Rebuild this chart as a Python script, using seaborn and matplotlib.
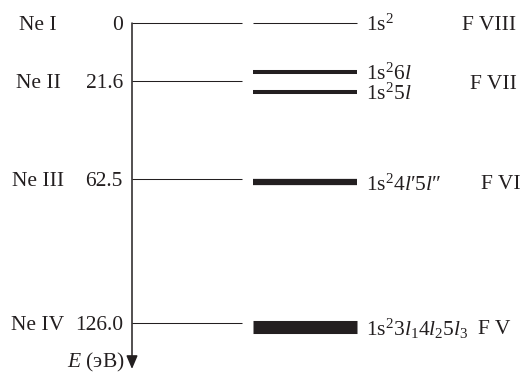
import numpy as np
import matplotlib
matplotlib.use("Agg")
import matplotlib.pyplot as plt
import seaborn as sns

sns.set_theme(style="white")
plt.rcParams["font.family"] = "serif"
plt.rcParams["font.serif"] = ["Liberation Serif", "DejaVu Serif"]
plt.rcParams["mathtext.fontset"] = "custom"
plt.rcParams["mathtext.rm"] = "Liberation Serif"
plt.rcParams["mathtext.it"] = "Liberation Serif:italic"

# Ne ionization thresholds, eV
ne_ions = ["Ne I", "Ne II", "Ne III", "Ne IV"]
ne_energy = [0, 21.6, 62.5, 126.0]
ne_labels = ["0", "21.6", "62.5", "126.0"]

# F configurations (band centre, eV)
f_config = [r"1s$^2$", r"1s$^2$6$\mathit{l}$", r"1s$^2$5$\mathit{l}$",
            r"1s$^2$4$\mathit{l}$′5$\mathit{l}$″",
            r"1s$^2$3$\mathit{l}_1$4$\mathit{l}_2$5$\mathit{l}_3$"]
f_energy = [0, 18.0, 26.0, 63.8, 127.6]
f_lw = [0.75, 2.9, 2.9, 4.5, 9.4]

f_ions = ["F VIII", "F VII", "F VI", "F V"]
f_ion_energy = [0, 22.0, 63.8, 127.6]
f_ion_x = [462, 470, 481, 478]

ink = "#231f20"
fs = 15.5

fig = plt.figure(figsize=(5.27, 3.74), dpi=100)
ax = fig.add_axes([0, 0, 1, 1])

# schematic (slightly compressed) energy axis
p = 0.93
fwd = lambda e: np.sign(e) * np.abs(e) ** p
inv = lambda v: np.sign(v) * np.abs(v) ** (1 / p)
ax.set_yscale("function", functions=(fwd, inv))
ax.set_xlim(0, 527)
unit = fwd(126.0) / 300


def ypx(row):
    return inv(unit * (row - 23))


ax.set_ylim(ypx(374), ypx(0))
ax.axis("off")

# Ne thresholds
ax.hlines(ne_energy, 132, 242, color=ink, lw=0.75)
for name, e, lab in zip(ne_ions, ne_energy, ne_labels):
    ax.text(38, e, name, ha="center", va="center_baseline", fontsize=fs, color=ink)
    ax.text(123, e, lab, ha="right", va="center_baseline", fontsize=fs, color=ink)

# energy axis with arrow
ax.annotate("", xy=(132, ypx(369)), xytext=(132, 0),
            arrowprops=dict(arrowstyle="-|>,head_length=0.4,head_width=0.17",
                            lw=1.1, color=ink, mutation_scale=20,
                            shrinkA=0, shrinkB=0))
ax.text(125, ypx(359), r"$E$ (эВ)", ha="right", va="center_baseline",
        fontsize=fs, color=ink)

# F levels
for cfg, e, w in zip(f_config, f_energy, f_lw):
    ax.hlines(e, 253, 357, color=ink, lw=w, capstyle="butt")
    ax.text(366, e, cfg, ha="left", va="center_baseline", fontsize=fs, color=ink)

for name, e, x in zip(f_ions, f_ion_energy, f_ion_x):
    ax.text(x, e, name, ha="left", va="center_baseline", fontsize=fs, color=ink)

fig.savefig("out.png", dpi=100)
